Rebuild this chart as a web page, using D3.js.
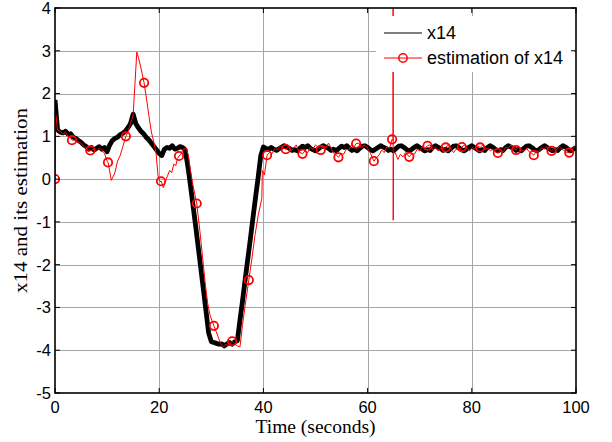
<!DOCTYPE html>
<html>
<head>
<meta charset="utf-8">
<script src="https://cdn.jsdelivr.net/npm/d3@7"></script>
<style>
  html, body { margin: 0; padding: 0; background: #fff; }
  svg { display: block; }
  text { font-family: "Liberation Sans", Arial, sans-serif; fill: #000; }
</style>
</head>
<body>
<svg id="chart" width="612" height="442"></svg>
<script>
// ---------- data ----------
const xTicks = [0, 20, 40, 60, 80, 100];
const yTicks = [-5, -4, -3, -2, -1, 0, 1, 2, 3, 4];
const seriesNames = ["x14", "estimation of x14"];

// x14 sampled every 0.5 s from 0 to 100
const x14Time = d3.range(0, 100.001, 0.5);
const x14Value = [
  1.85, 1.15, 1.10, 1.08, 1.12, 1.05, 1.06, 0.98, 0.95, 0.90,
  0.86, 0.80, 0.76, 0.70, 0.74, 0.68, 0.72, 0.76, 0.70, 0.74,
  0.64, 0.80, 0.90, 0.95, 0.98, 1.04, 1.07, 1.12, 1.20, 1.30,
  1.52, 1.30, 1.20, 1.12, 1.06, 0.98, 0.92, 0.84, 0.76, 0.68,
  0.60, 0.55, 0.70, 0.74, 0.72, 0.78, 0.70, 0.72, 0.76, 0.74,
  0.68,
  0.30, -0.15, -0.62, -1.10, -1.60, -2.10, -2.60, -3.10, -3.60, -3.80,
  -3.82, -3.84, -3.86, -3.85, -3.90, -3.85, -3.82, -3.86, -3.80, -3.78,
  -3.30, -2.84, -2.35, -1.87, -1.40, -0.90, -0.42, 0.05, 0.55, 0.75,
  0.72, 0.69, 0.74, 0.70, 0.67, 0.71, 0.75, 0.78, 0.75, 0.72,
  0.67, 0.69, 0.66, 0.72, 0.77, 0.74, 0.78, 0.72, 0.69, 0.66,
  0.70, 0.75, 0.78, 0.75, 0.72, 0.67, 0.70, 0.66, 0.72, 0.77,
  0.74, 0.78, 0.72, 0.67, 0.70, 0.66, 0.72, 0.77, 0.78, 0.74,
  0.69, 0.66, 0.70, 0.74, 0.78, 0.75, 0.72, 0.67, 0.70, 0.66,
  0.72, 0.77, 0.78, 0.74, 0.69, 0.66, 0.70, 0.75, 0.78, 0.74,
  0.70, 0.66, 0.69, 0.67, 0.74, 0.78, 0.75, 0.72, 0.67, 0.70,
  0.66, 0.72, 0.77, 0.78, 0.74, 0.69, 0.66, 0.70, 0.75, 0.78,
  0.74, 0.70, 0.66, 0.69, 0.67, 0.74, 0.78, 0.75, 0.70, 0.66,
  0.69, 0.67, 0.74, 0.78, 0.75, 0.72, 0.67, 0.70, 0.66, 0.72,
  0.77, 0.78, 0.74, 0.69, 0.66, 0.70, 0.75, 0.78, 0.74, 0.70,
  0.66, 0.69, 0.67, 0.74, 0.78, 0.75, 0.70, 0.66, 0.70, 0.74
];

// estimation of x14 (irregular sample times)
const estTime = [
  0, 0.15, 0.5, 1, 1.5, 2, 2.5, 3, 3.4, 4, 4.5, 5, 5.5, 6, 6.5, 7, 7.5, 8, 8.5, 9, 9.5,
  10, 10.2, 10.8, 11.5, 12, 12.5, 13, 13.6, 14, 14.5, 15, 15.7, 16, 16.5, 17.1, 17.6, 18, 18.5, 19, 19.4, 19.8,
  20.15, 20.4, 20.8, 21.2, 21.6, 22, 22.4, 22.8, 23.2, 23.5, 23.8, 24.2, 24.6, 25.2, 25.6, 26, 26.5,
  27.2, 27.8, 28.3, 28.8, 29.3, 29.8, 30.5, 31.3, 31.8, 32.3, 32.8, 33.3, 34, 34.5, 35, 35.5,
  36, 36.5, 37.2, 37.8, 38.4, 39, 39.7, 39.8, 40.2, 40.7,
  41.2, 41.7, 42.2, 42.7, 43.2, 43.7, 44.3, 44.8, 45.3, 45.8, 46.3, 46.8, 47.5, 48, 48.5, 49, 49.5,
  50, 50.5, 51, 51.5, 52, 52.5, 53, 53.5, 54, 54.4, 54.9, 55.4, 55.9, 56.4, 56.9, 57.4, 57.8, 58.3, 58.8, 59.3, 59.8,
  60.3, 60.8, 61.2, 61.7, 62.2, 62.7, 63.2, 63.7, 64.2, 64.7, 64.88, 64.9, 64.92, 64.95, 65.3, 65.8, 66.3, 66.8, 67.3, 68,
  68.5, 69, 69.5, 70, 70.5, 71, 71.5, 72, 72.5, 73, 73.5, 74, 74.5, 75, 75.5, 76, 76.5, 77, 77.5, 78.1,
  78.6, 79.1, 79.6, 80.1, 80.6, 81.1, 81.6, 82.1, 82.6, 83.1, 83.6, 84.1, 84.5, 85, 85.5, 86, 86.5, 87, 87.5, 88,
  88.5, 89, 89.5, 90, 90.5, 91, 91.5, 91.9, 92.4, 92.9, 93.4, 93.9, 94.4, 94.9, 95.3, 95.8, 96.3, 96.8, 97.3, 97.8,
  98.3, 98.7, 99.2, 99.7, 100
];
const estValue = [
  0, 1.50, 1.15, 1.12, 1.05, 1.10, 1.00, 0.95, 0.91, 0.92, 0.86, 0.84, 0.76, 0.72, 0.66, 0.68, 0.70, 0.66, 0.72, 0.68, 0.60,
  0.42, 0.39, -0.03, 0.15, 0.42, 0.55, 0.75, 1.00, 1.10, 1.30, 1.50, 2.97, 2.85, 2.60, 2.25, 1.85, 1.50, 1.10, 0.85, 0.60, 0.05,
  -0.06, -0.05, -0.20, -0.05, 0.08, 0.20, 0.15, 0.35, 0.32, 0.48, 0.54, 0.58, 0.70, 0.72, 0.55, 0.20, -0.15,
  -0.57, -1.20, -1.80, -2.40, -2.90, -3.20, -3.43, -3.68, -3.85, -3.92, -3.86, -3.90, -3.79, -3.85, -3.90, -3.92,
  -3.40, -2.95, -2.36, -1.85, -1.30, -0.85, -0.45, 0.20, 0.10, 0.56,
  0.62, 0.60, 0.72, 0.68, 0.78, 0.74, 0.70, 0.76, 0.66, 0.72, 0.80, 0.64, 0.59, 0.66, 0.62, 0.74, 0.70,
  0.80, 0.74, 0.68, 0.78, 0.74, 0.84, 0.72, 0.60, 0.56, 0.51, 0.60, 0.58, 0.70, 0.68, 0.80, 0.76, 0.83, 0.84, 0.72, 0.80, 0.76,
  0.66, 0.54, 0.42, 0.50, 0.56, 0.68, 0.62, 0.76, 0.72, 0.93, 0.90, 6.00, -0.96, 0.60, 0.62, 0.46, 0.58, 0.52, 0.62, 0.52,
  0.60, 0.58, 0.70, 0.66, 0.76, 0.72, 0.78, 0.80, 0.68, 0.74, 0.66, 0.72, 0.70, 0.74, 0.80, 0.70, 0.62, 0.70, 0.68, 0.75,
  0.80, 0.72, 0.66, 0.74, 0.70, 0.78, 0.74, 0.80, 0.70, 0.72, 0.66, 0.70, 0.64, 0.61, 0.68, 0.64, 0.74, 0.72, 0.80, 0.72,
  0.68, 0.76, 0.70, 0.66, 0.72, 0.64, 0.60, 0.56, 0.66, 0.64, 0.74, 0.70, 0.76, 0.70, 0.66, 0.72, 0.68, 0.76, 0.70, 0.66,
  0.62, 0.62, 0.70, 0.74, 0.72
];

// circle markers on the estimation
const markerTime = [0, 3.26, 6.78, 10.17, 13.6, 17.1, 20.35, 23.8, 27.2, 30.5, 34.0, 37.2,
  40.7, 44.3, 47.5, 51.0, 54.4, 57.8, 61.2, 64.7, 68.0, 71.5, 75.0, 78.1, 81.6, 85.0, 88.5, 91.9, 95.3, 98.7];
const markerValue = [0, 0.91, 0.67, 0.39, 1.00, 2.25, -0.05, 0.54, -0.57, -3.43, -3.79, -2.36,
  0.56, 0.70, 0.59, 0.68, 0.51, 0.83, 0.42, 0.93, 0.52, 0.78, 0.74, 0.75, 0.74, 0.61, 0.68, 0.56, 0.66, 0.62];

// ---------- drawing ----------
const svg = d3.select("#chart");
const M = { left: 55, top: 8, right: 36, bottom: 49 };
const W = 612 - M.left - M.right;
const H = 442 - M.top - M.bottom;

const x = d3.scaleLinear().domain([0, 100]).range([0, W]);
const y = d3.scaleLinear().domain([-5, 4]).range([H, 0]);

const g = svg.append("g").attr("transform", `translate(${M.left},${M.top})`);

svg.append("defs").append("clipPath").attr("id", "clip")
  .append("rect").attr("x", 0).attr("y", 0).attr("width", W).attr("height", H);

// grid
const grid = g.append("g").attr("stroke", "#a6a6a6").attr("stroke-width", 1);
grid.selectAll("line.gx").data(xTicks.slice(1, -1)).join("line")
  .attr("x1", d => Math.round(x(d)) + 0.5).attr("x2", d => Math.round(x(d)) + 0.5)
  .attr("y1", 0).attr("y2", H);
grid.selectAll("line.gy").data(yTicks.slice(1, -1)).join("line")
  .attr("y1", d => Math.round(y(d)) + 0.5).attr("y2", d => Math.round(y(d)) + 0.5)
  .attr("x1", 0).attr("x2", W);

const plot = g.append("g").attr("clip-path", "url(#clip)");

const x14Data = x14Time.map((t, i) => [t, x14Value[i]]).filter(d => d[1] !== undefined);
const estData = estTime.map((t, i) => [t, estValue[i]]).filter(d => d[1] !== undefined);
const markData = markerTime.map((t, i) => [t, markerValue[i]]);

const line = d3.line().x(d => x(d[0])).y(d => y(d[1]));

plot.append("path").datum(x14Data)
  .attr("d", line).attr("fill", "none").attr("stroke", "#000")
  .attr("stroke-width", 4.8).attr("stroke-linejoin", "round");

plot.append("path").datum(estData)
  .attr("d", line).attr("fill", "none").attr("stroke", "#ff0000")
  .attr("stroke-width", 1).attr("stroke-linejoin", "round");

plot.selectAll("circle.m").data(markData).join("circle")
  .attr("cx", d => x(d[0])).attr("cy", d => y(d[1])).attr("r", 4.2)
  .attr("fill", "none").attr("stroke", "#ff0000").attr("stroke-width", 1.8);

// legend (white box without border)
const lg = g.append("g");
lg.append("rect").attr("x", 376 - M.left).attr("y", 16 - M.top)
  .attr("width", 198).attr("height", 56).attr("fill", "#fff");
const lx0 = 384 - M.left, lx1 = 422 - M.left, ltx = 427 - M.left;
const ly = [33 - M.top, 58 - M.top];
lg.append("line").attr("x1", lx0).attr("x2", lx1).attr("y1", ly[0]).attr("y2", ly[0])
  .attr("stroke", "#000").attr("stroke-width", 1.2);
lg.append("line").attr("x1", lx0).attr("x2", lx1).attr("y1", ly[1]).attr("y2", ly[1])
  .attr("stroke", "#ff0000").attr("stroke-width", 1);
lg.append("circle").attr("cx", (lx0 + lx1) / 2).attr("cy", ly[1]).attr("r", 4.2)
  .attr("fill", "none").attr("stroke", "#ff0000").attr("stroke-width", 1.5);
lg.selectAll("text.lt").data(seriesNames).join("text")
  .attr("x", ltx).attr("y", (d, i) => ly[i]).attr("dy", "0.36em")
  .attr("font-size", 18).text(d => d);

// axes box and inward ticks
const axes = g.append("g").attr("stroke", "#000");
axes.append("rect").attr("x", 0).attr("y", 0).attr("width", W).attr("height", H)
  .attr("fill", "none").attr("stroke-width", 1.6);
const tl = 5;
axes.selectAll("line.xtb").data(xTicks).join("line")
  .attr("x1", d => x(d)).attr("x2", d => x(d)).attr("y1", H).attr("y2", H - tl).attr("stroke-width", 1);
axes.selectAll("line.xtt").data(xTicks).join("line")
  .attr("x1", d => x(d)).attr("x2", d => x(d)).attr("y1", 0).attr("y2", tl).attr("stroke-width", 1);
axes.selectAll("line.ytl").data(yTicks).join("line")
  .attr("y1", d => y(d)).attr("y2", d => y(d)).attr("x1", 0).attr("x2", tl).attr("stroke-width", 1);
axes.selectAll("line.ytr").data(yTicks).join("line")
  .attr("y1", d => y(d)).attr("y2", d => y(d)).attr("x1", W).attr("x2", W - tl).attr("stroke-width", 1);

// tick labels
g.selectAll("text.xl").data(xTicks).join("text")
  .attr("x", d => x(d)).attr("y", H + 20).attr("text-anchor", "middle")
  .attr("font-size", 16.5).text(d => d);
g.selectAll("text.yl").data(yTicks).join("text")
  .attr("x", -4).attr("y", d => y(d)).attr("dy", "0.36em").attr("text-anchor", "end")
  .attr("font-size", 16.5).text(d => d);

// axis titles
svg.append("text").attr("x", M.left + W / 2).attr("y", 433)
  .attr("text-anchor", "middle").style("font-family", "'Liberation Serif', 'DejaVu Serif', serif")
  .attr("font-size", 18).attr("textLength", 120).attr("lengthAdjust", "spacingAndGlyphs")
  .text("Time (seconds)");
svg.append("text").attr("transform", `translate(27,${M.top + H / 2}) rotate(-90)`)
  .attr("text-anchor", "middle").style("font-family", "'Liberation Serif', 'DejaVu Serif', serif")
  .attr("font-size", 18).attr("textLength", 185).attr("lengthAdjust", "spacingAndGlyphs")
  .text("x14 and its estimation");
</script>
</body>
</html>
